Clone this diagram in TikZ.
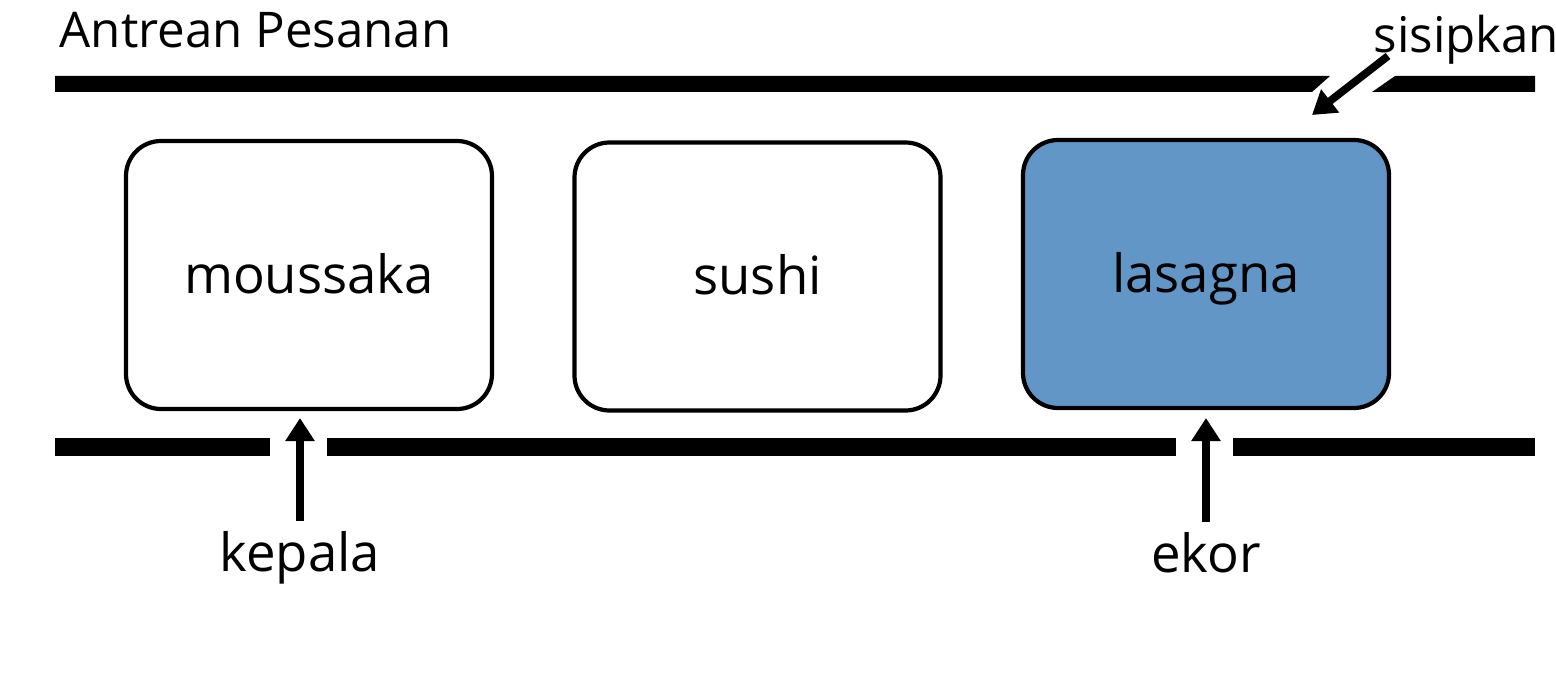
\documentclass[tikz,border=0pt]{standalone}
\usepackage{fontspec}
\setmainfont{Open Sans}
\usepackage{tikz}
\usetikzlibrary{arrows.meta}
\definecolor{lasagnablue}{RGB}{97,150,199}

\begin{document}
\begin{tikzpicture}[
		scale=1,
		item/.style={rectangle, draw, rounded corners=0.35cm, line width=1.2pt, minimum width=3.66cm, minimum height=2.68cm, text height=0.45cm, text depth=0.09cm, font=\fontsize{15}{18}\selectfont},
		word/.style={inner sep=0pt, font=\fontsize{15}{18}\selectfont},
		arrow/.style={-{Triangle[length=2.3mm,width=2.8mm]}, line width=2.2pt}
	]
  \useasboundingbox (0cm, 0cm) rectangle (15.56cm, 6.72cm);
  \node (title) [word, anchor=base west, font=\fontsize{14}{17}\selectfont] at (0.59cm, 6.24cm) {Antrean Pesanan};
  \fill (0.55cm, 5.96cm) -- (13.30cm, 5.96cm) -- (13.12cm, 5.80cm) -- (0.55cm, 5.80cm) -- cycle;
  \fill (13.95cm, 5.96cm) -- (15.35cm, 5.96cm) -- (15.35cm, 5.80cm) -- (13.72cm, 5.80cm) -- cycle;
  \fill (0.55cm, 2.16cm) rectangle (2.70cm, 2.34cm);
  \fill (3.27cm, 2.16cm) rectangle (11.76cm, 2.34cm);
  \fill (12.33cm, 2.16cm) rectangle (15.35cm, 2.34cm);
  \node (q_moussaka) [item] at (3.09cm, 3.97cm) {moussaka};
  \node (q_sushi) [item] at (7.575cm, 3.955cm) {sushi};
  \node (q_lasagna) [item, fill=lasagnablue] at (12.06cm, 3.98cm) {lasagna};
  \node (q_head) [word, anchor=base] at (3.0cm, 1.01cm) {kepala};
  \node (q_tail) [word, anchor=base] at (12.06cm, 1.0cm) {ekor};
  \node (q_insert) [word, anchor=base west, font=\fontsize{14}{17}\selectfont] at (13.73cm, 6.19cm) {sisipkan};
  \coordinate (head_tip) at (3.0cm, 2.54cm);
  \coordinate (tail_tip) at (12.06cm, 2.54cm);
  \coordinate (insert_tip) at (13.12cm, 5.57cm);
  \draw [arrow] ([yshift=0.9mm]q_head.north) -- (head_tip);
  \draw [arrow] ([yshift=0.9mm]q_tail.north) -- (tail_tip);
  \draw [arrow] ([xshift=1.5mm, yshift=-0.3mm]q_insert.base west) -- (insert_tip);
\end{tikzpicture}
\end{document}
